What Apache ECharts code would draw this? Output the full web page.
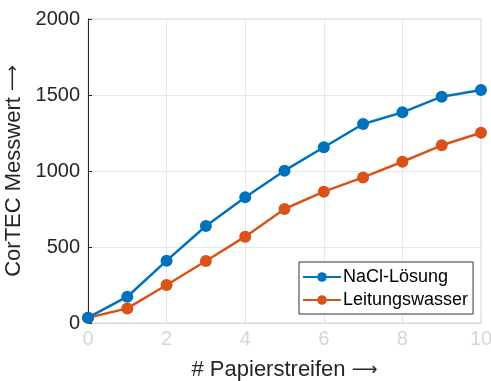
<!DOCTYPE html>
<html><head><meta charset="utf-8">
<script src="https://cdn.jsdelivr.net/npm/echarts@6/dist/echarts.min.js"></script>
<style>html,body{margin:0;padding:0;background:#fff}#c{width:491px;height:381px}</style>
</head><body><div id="c"></div>
<script>
const xValues = [0,1,2,3,4,5,6,7,8,9,10];
const naclValues = [35,173,410,638,827,1002,1156,1309,1386,1489,1533];
const wasserValues = [35,96,250,408,568,750,864,958,1061,1169,1252];
const seriesNames = ['NaCl-Lösung','Leitungswasser'];
const xTitle = '# Papierstreifen';
const yTitle = 'CorTEC Messwert';

const font = 'Liberation Sans, Arial, sans-serif';
const arrowStyle = {fontFamily:'DejaVu Sans',fontSize:18,color:'#262626'};
const titleStyle = {fontFamily:font,fontSize:22,color:'#262626'};
const chart = echarts.init(document.getElementById('c'), null, {renderer:'canvas'});
const mk = (vals) => xValues.map((x,i)=>[x, vals[i]]);
chart.setOption({
  animation:false,
  grid:{left:88,right:10,top:19,bottom:58,show:true,borderColor:'#d9d9d9',borderWidth:1,outerBoundsMode:'none',containLabel:false},
  xAxis:{type:'value',min:0,max:10,interval:2,
    name:'{t|'+xTitle+'} {a|\u27F6}',nameLocation:'middle',nameGap:36,
    nameTextStyle:{fontFamily:font,fontSize:22,color:'#262626',rich:{t:titleStyle,a:arrowStyle}},
    axisLine:{show:true,lineStyle:{color:'#d9d9d9',width:1}},
    axisTick:{show:true,inside:true,length:4,lineStyle:{color:'#d9d9d9'}},
    axisLabel:{fontFamily:font,fontSize:20,color:'#d6d6d6',margin:6,formatter:(v)=>String(v)},
    splitLine:{show:true,lineStyle:{color:'#e8e8e8',width:1}}
  },
  yAxis:{type:'value',min:0,max:2000,interval:500,
    name:'{t|'+yTitle+'} {a|\u27F6}',nameLocation:'middle',nameGap:55,
    nameTextStyle:{fontFamily:font,fontSize:22,color:'#262626',rich:{t:titleStyle,a:arrowStyle}},
    axisLine:{show:true,lineStyle:{color:'#262626',width:1}},
    axisTick:{show:true,inside:true,length:4,lineStyle:{color:'#262626'}},
    axisLabel:{fontFamily:font,fontSize:20,color:'#262626',margin:8,formatter:(v)=>String(v)},
    splitLine:{show:true,lineStyle:{color:'#e8e8e8',width:1}}
  },
  legend:{orient:'vertical',left:299,top:262,width:174,
    backgroundColor:'#fff',borderColor:'#333',borderWidth:1,borderRadius:0,
    padding:[6,5,5,3],itemGap:5,itemWidth:38,itemHeight:12,
    textStyle:{fontFamily:font,fontSize:18,color:'#000',padding:[0,0,0,-3]},
    data:seriesNames},
  series:[
    {name:seriesNames[0],type:'line',data:mk(naclValues),symbol:'circle',symbolSize:12,
     lineStyle:{color:'#0072BD',width:2.5},itemStyle:{color:'#0072BD'},z:3},
    {name:seriesNames[1],type:'line',data:mk(wasserValues),symbol:'circle',symbolSize:12,
     lineStyle:{color:'#D95319',width:2.5},itemStyle:{color:'#D95319'},z:2}
  ]
});
</script></body></html>
